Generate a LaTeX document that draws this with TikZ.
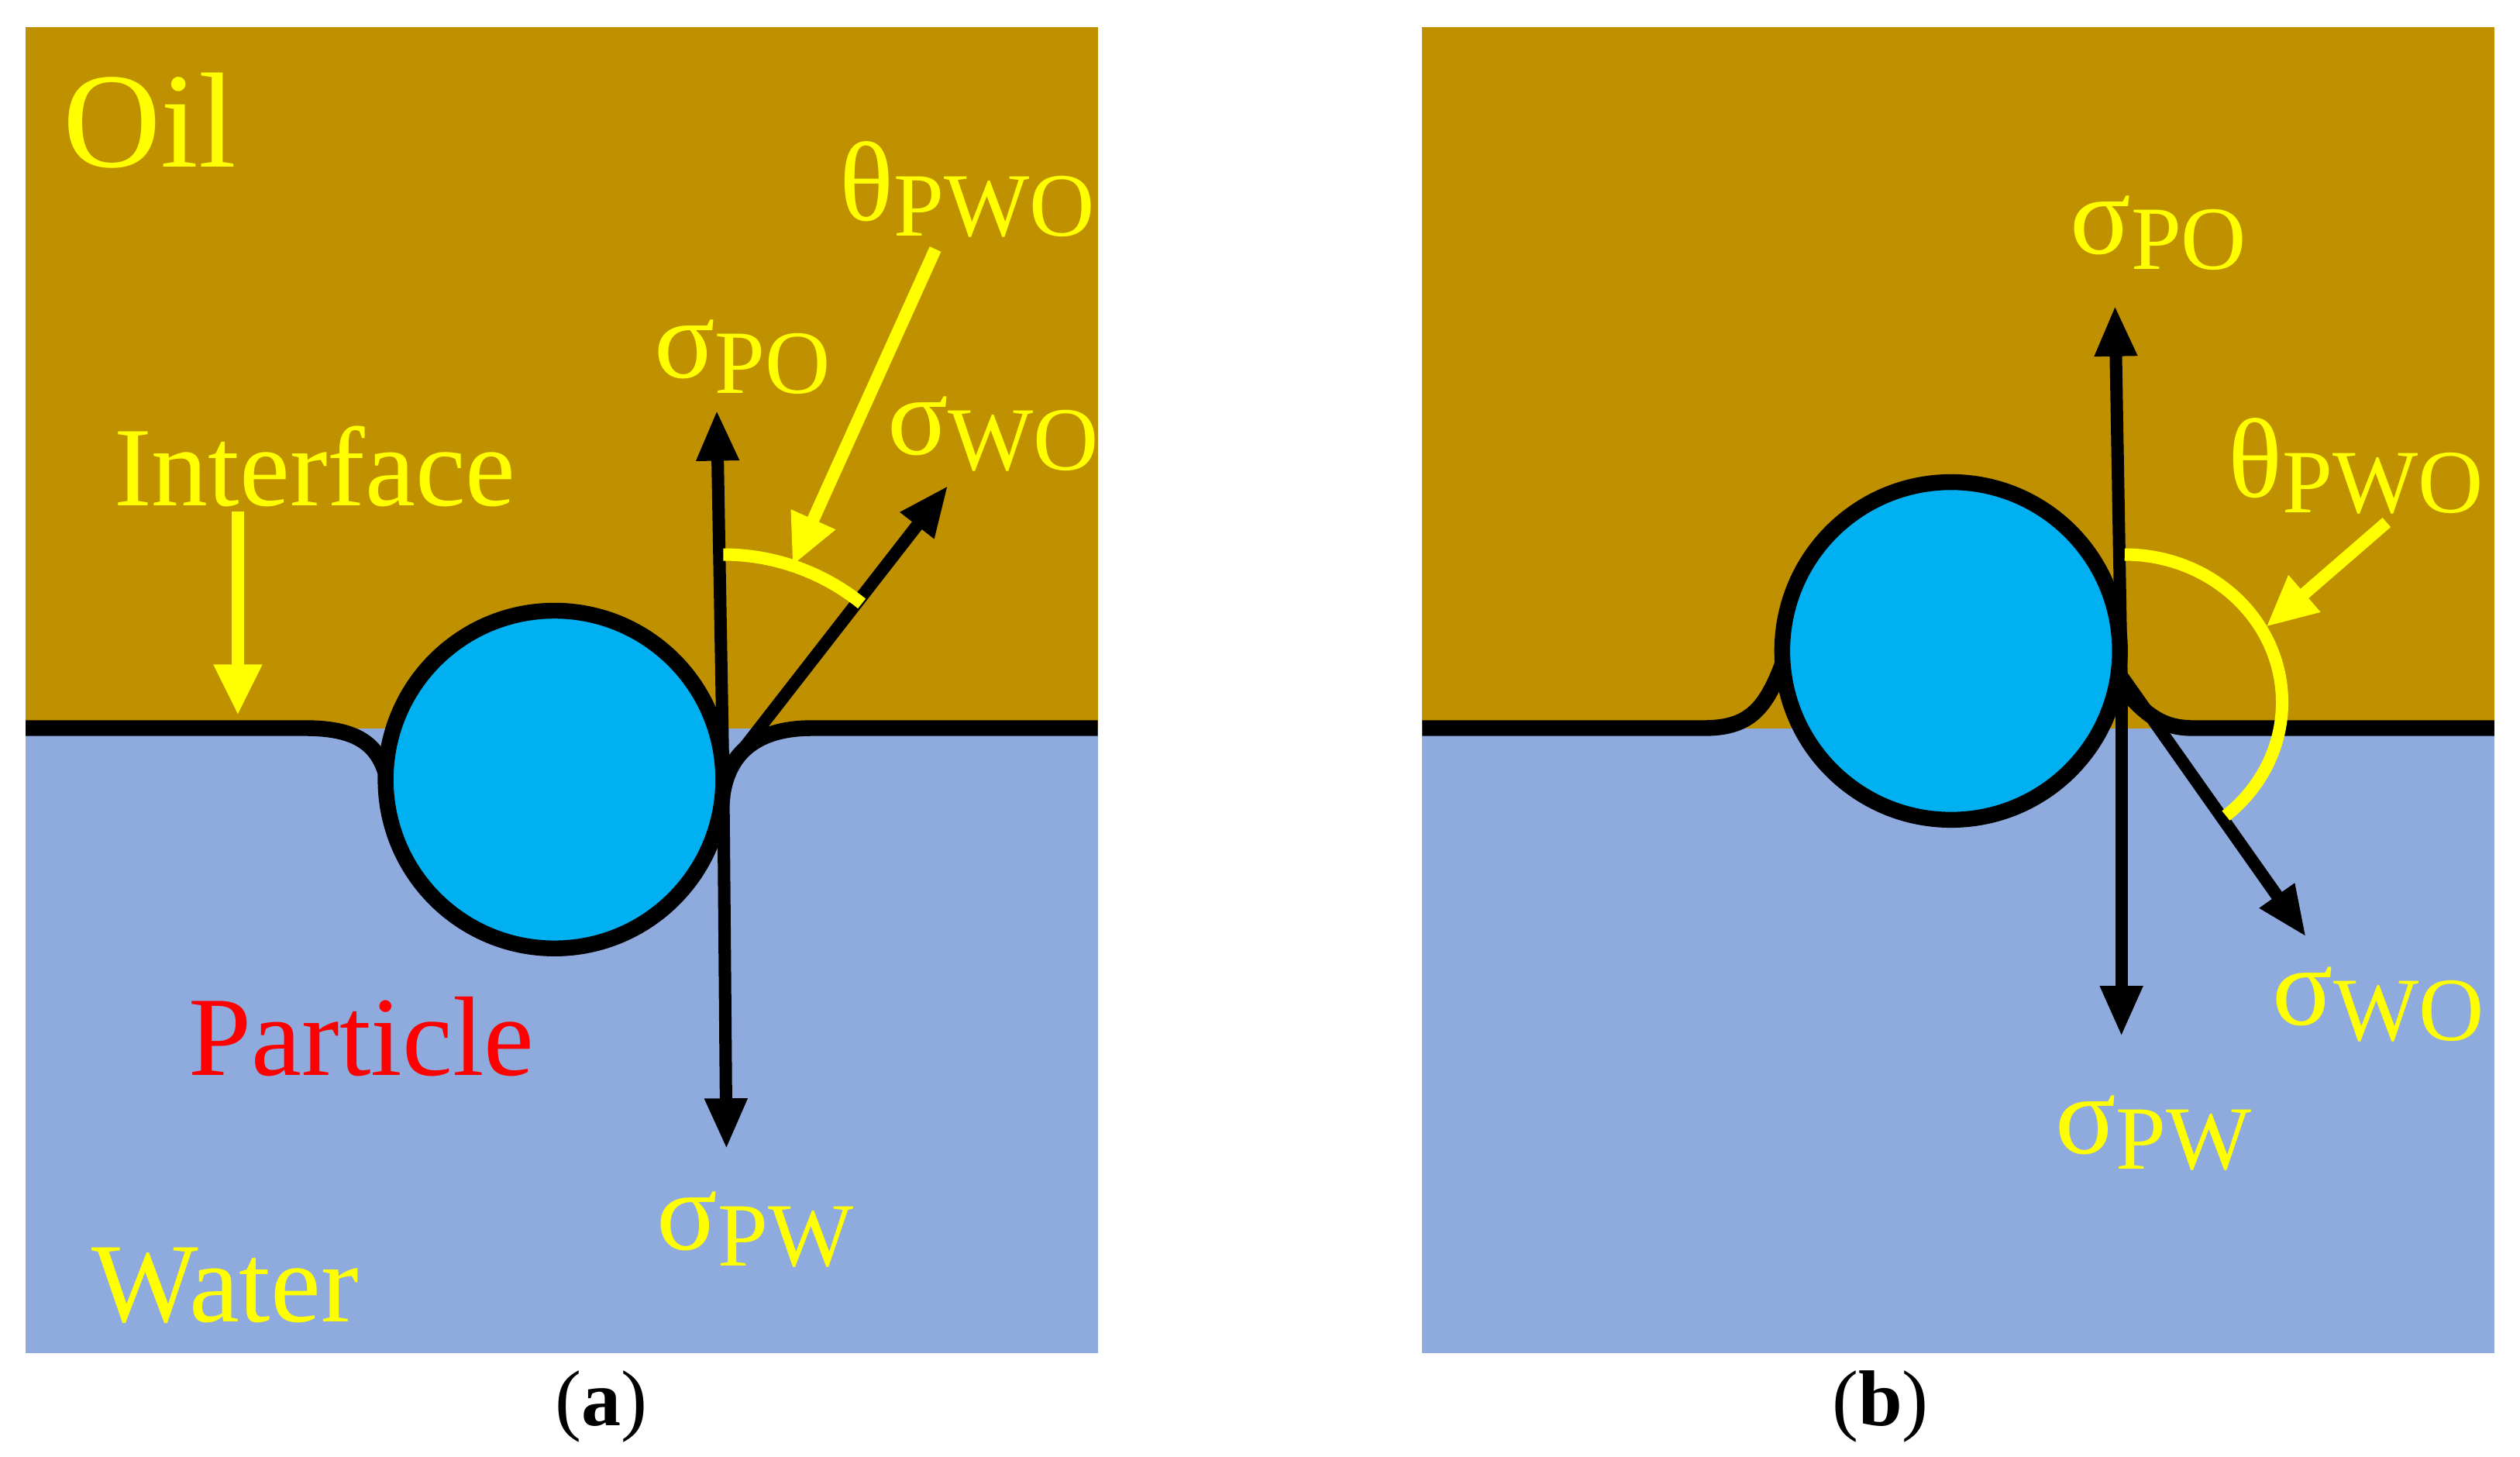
\documentclass[tikz,border=0pt]{standalone}
\usepackage{fontspec}
\setmainfont{Liberation Serif}
\usetikzlibrary{arrows.meta}
\definecolor{oil}{HTML}{BF9000}
\definecolor{water}{HTML}{8FAADC}
\definecolor{part}{HTML}{00B0F0}
\definecolor{yel}{HTML}{FFFF00}
\newcommand{\sub}[1]{\raisebox{-0.3ex}{\fontsize{16}{18}\selectfont #1}}
\begin{document}
\begin{tikzpicture}[x=0.01cm,y=-0.01cm,
 lab/.style={text=yel,font=\fontsize{20}{22}\selectfont,inner sep=0pt},
 force/.style={line width=2.2pt,-{Triangle[length=9pt,width=7pt]}},
 ya/.style={yel,line width=2.2pt,-{Triangle[length=9pt,width=8pt]}},
 iface/.style={line width=2.8pt},
 ball/.style={fill=part,draw=black,line width=2.8pt,inner sep=0pt,minimum size=2.1cm}]
\useasboundingbox (0,0) rectangle (1568,906);
% panel a
\fill[oil] (16,17) rectangle (683,453);
\fill[water] (16,453) rectangle (683,842);
\draw[iface] (16,453) -- (190,453) .. controls (225,453) and (238,465) .. (242,490);
\draw[iface] (450,492) .. controls (455,465) and (475,453) .. (505,453) -- (683,453);
\node[ball,circle] (pa) at (345,485) {};
\coordinate (ca) at (450,482);
\coordinate (poa) at (446,255);
\coordinate (woa) at (590,302);
\coordinate (pwa) at (452,715);
\draw[force] (ca) -- (poa);
\draw[force] (ca) -- (woa);
\draw[force] (ca) -- (pwa);
\draw[yel,line width=2.2pt] (450,345) arc[start angle=-90,end angle=-51,radius=137];
\coordinate (ta1) at (582,155); \coordinate (ta2) at (493,352);
\draw[ya] (ta1) -- (ta2);
\coordinate (ia1) at (148,318); \coordinate (ia2) at (148,445);
\draw[ya] (ia1) -- (ia2);
\node[lab,font=\fontsize{24}{26}\selectfont] (oil) at (93,75) {Oil};
\node[lab] (int) at (196,290) {Interface};
\node[lab] (wat) at (140,800) {Water};
\node[lab,text=red] (par) at (225,645) {Particle};
\node[lab] (tha) at (602,118) {θ\sub{PWO}};
\node[lab] (spoa) at (462,222) {σ\sub{PO}};
\node[lab] (swoa) at (618,270) {σ\sub{WO}};
\node[lab] (spwa) at (470,765) {σ\sub{PW}};
\node[font=\fontsize{14}{16}\selectfont] (capa) at (374,875) {(\textbf{a})};
% panel b
\fill[oil] (885,17) rectangle (1552,453);
\fill[water] (885,453) rectangle (1552,842);
\draw[iface] (885,453) -- (1060,453) .. controls (1090,453) and (1100,440) .. (1112,405);
\draw[iface] (1318,425) .. controls (1335,445) and (1345,453) .. (1365,453) -- (1552,453);
\node[ball,circle] (pb) at (1214,405) {};
\coordinate (cb) at (1320,420);
\coordinate (pob) at (1316,190);
\coordinate (pwb) at (1320,645);
\coordinate (wob) at (1435,583);
\draw[force] (cb) -- (pob);
\draw[force] (cb) -- (pwb);
\draw[force] (cb) -- (wob);
\draw[yel,line width=2.2pt] (1322,345) arc[start angle=-90,end angle=50,x radius=98,y radius=92];
\coordinate (tb1) at (1485,325); \coordinate (tb2) at (1410,390);
\draw[ya] (tb1) -- (tb2);
\node[lab] (thb) at (1466,290) {θ\sub{PWO}};
\node[lab] (spob) at (1343,145) {σ\sub{PO}};
\node[lab] (swob) at (1480,625) {σ\sub{WO}};
\node[lab] (spwb) at (1340,705) {σ\sub{PW}};
\node[font=\fontsize{14}{16}\selectfont] (capb) at (1170,875) {(\textbf{b})};
\end{tikzpicture}
\end{document}
